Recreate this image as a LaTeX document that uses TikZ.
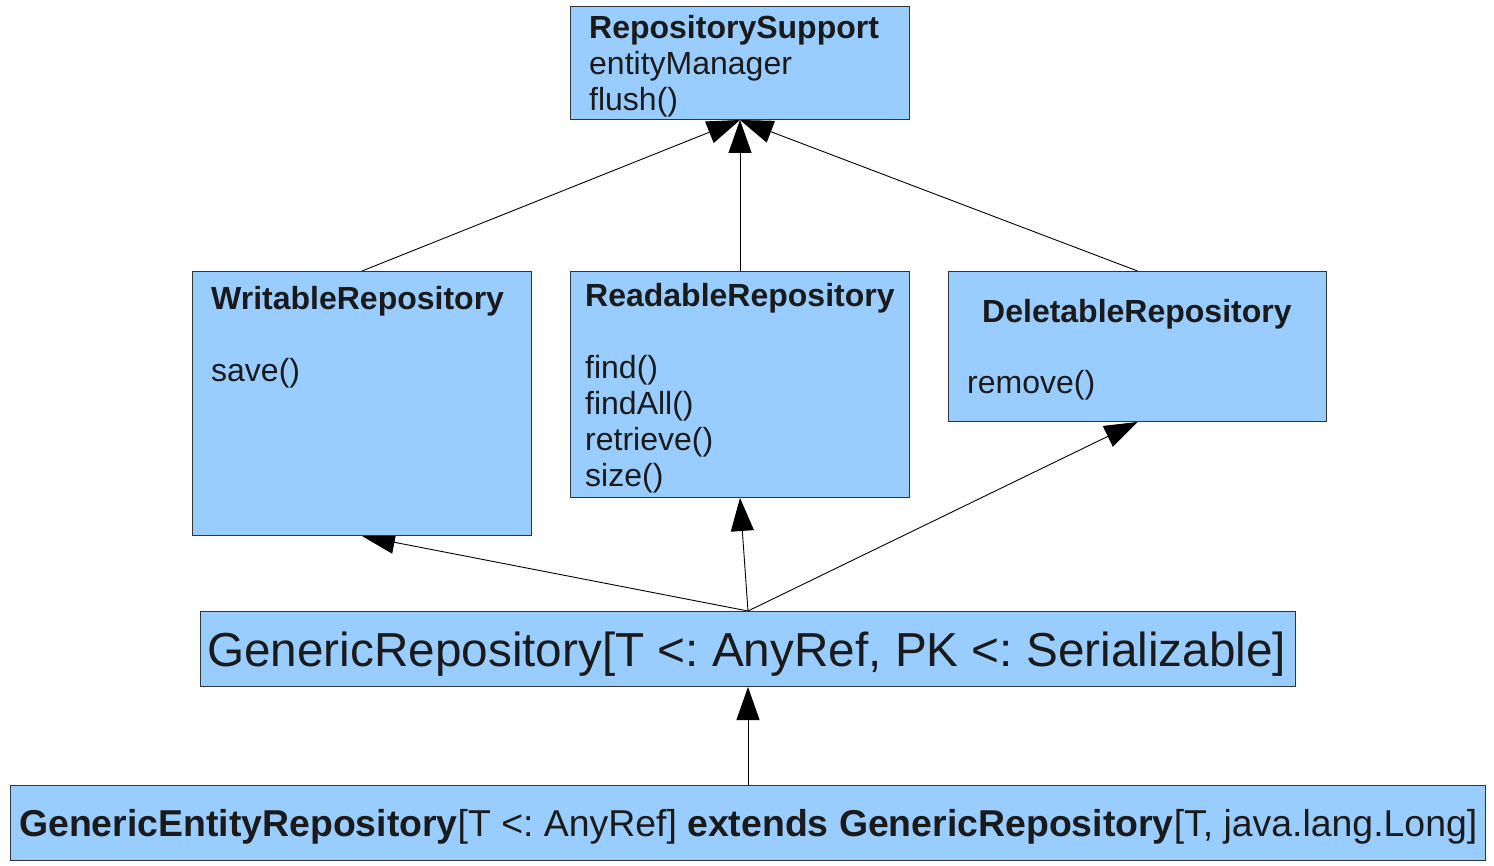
\documentclass[tikz,border=0pt]{standalone}
\usepackage{fontspec}
\setmainfont{Liberation Sans}
\usetikzlibrary{arrows.meta,backgrounds}
\definecolor{boxblue}{HTML}{99CCFF}
\definecolor{txt}{HTML}{1A1A1A}
\frenchspacing
\begin{document}
\begin{tikzpicture}[x=1pt,y=-1pt,
  box/.style={draw=black!80, fill=boxblue, line width=1pt, inner sep=0pt, anchor=north west},
  lbl/.style={anchor=base west, inner sep=0pt, text=txt, font=\fontsize{32}{36}\selectfont},
  ttl/.style={lbl, font=\fontsize{32}{36}\selectfont\bfseries},
  big/.style={anchor=base west, inner sep=0pt, text=txt, font=\fontsize{47.7}{56}\selectfont},
  ger/.style={anchor=base west, inner sep=0pt, text=txt, font=\fontsize{37.4}{42}\selectfont},
  inh/.style={-{Triangle[length=33pt,width=23pt]}, line width=0.9pt},
]
\useasboundingbox (0,0) rectangle (1494,866);
\node[box, minimum width=339pt, minimum height=113pt] (rs) at (570,6) {};
\node[box, minimum width=339pt, minimum height=264pt] (wr) at (192,271) {};
\node[box, minimum width=339pt, minimum height=226pt] (rd) at (570,271) {};
\node[box, minimum width=378pt, minimum height=150pt] (dl) at (948,271) {};
\node[box, minimum width=1095pt, minimum height=75pt] (gr) at (200,611) {};
\node[box, minimum width=1475pt, minimum height=75pt] (ge) at (10,785) {};

\node[ttl] (rst) at (589,39) {RepositorySupport};
\node[lbl] (rs1) at (589,75) {entityManager};
\node[lbl] (rs2) at (589,111) {flush()};

\node[ttl] (wrt) at (211,310) {WritableRepository};
\node[lbl] (wr1) at (211,382) {save()};

\node[ttl] (rdt) at (585,307) {ReadableRepository};
\node[lbl] (rd1) at (585,379) {find()};
\node[lbl] (rd2) at (585,414) {findAll()};
\node[lbl] (rd3) at (585,450) {retrieve()};
\node[lbl] (rd4) at (585,486) {size()};

\node[ttl] (dlt) at (982,323) {DeletableRepository};
\node[lbl] (dl1) at (967,394) {remove()};

\node[big] (grt) at (207,666) {GenericRepository[T <: AnyRef, PK <: Serializable]};
\node[ger] (get) at (19,836) {\textbf{GenericEntityRepository}[T <: AnyRef] \textbf{extends GenericRepository}[T, java.lang.Long]};

\begin{scope}[on background layer]
\draw[inh] (wr.north) -- (rs.south);
\draw[inh] (rd.north) -- (rs.south);
\draw[inh] (dl.north) -- (rs.south);
\draw[inh] (gr.north) -- (wr.south);
\draw[inh] (gr.north) -- (rd.south);
\draw[inh] (gr.north) -- (dl.south);
\draw[inh] (ge.north) -- (gr.south);
\end{scope}
\end{tikzpicture}
\end{document}
